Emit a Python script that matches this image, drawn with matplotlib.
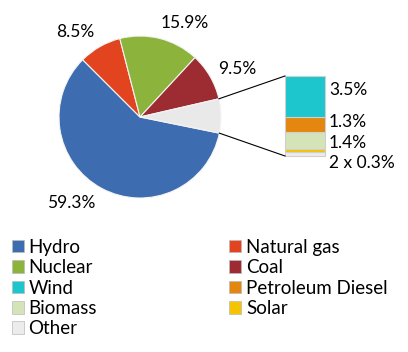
import numpy as np
import matplotlib.pyplot as plt
from matplotlib.patches import Patch

plt.rcParams['font.family'] = ['Lato', 'DejaVu Sans']

# pie: main sources + the "Other" group that is split out into the bar
pie_labels = ['Hydro', 'Natural gas', 'Nuclear', 'Coal', 'Other']
pie_values = [59.3, 8.5, 15.9, 9.5, 6.8]
pie_colors = ['#3d6cb0', '#e2441f', '#8cb43c', '#9c2c31', '#e9e9e9']
pie_text = ['59.3%', '8.5%', '15.9%', '9.5%', '']

# bar: breakdown of the small group, bottom to top
bar_labels = ['Other', 'Solar', 'Biomass', 'Petroleum Diesel', 'Wind']
bar_values = [0.3, 0.3, 1.4, 1.3, 3.5]
bar_colors = ['#ececec', '#f4c400', '#d5e3b8', '#e3870f', '#1cc6cc']
bar_text = ['2 x 0.3%', '', '1.4%', '1.3%', '3.5%']

legend_order = ['Hydro', 'Nuclear', 'Wind', 'Biomass', 'Other',
                'Natural gas', 'Coal', 'Petroleum Diesel', 'Solar']
color_of = dict(zip(pie_labels, pie_colors))
color_of.update(dict(zip(bar_labels, bar_colors)))

W, H = 408, 352
fig = plt.figure(figsize=(W / 100, H / 100), dpi=100)
ax = fig.add_axes([0, 0, 1, 1])

cx, cy, r = 140, H - 117, 81
start = 348.5
ax.pie(pie_values, colors=pie_colors, center=(cx, cy), radius=r,
       startangle=start, counterclock=False, frame=True,
       wedgeprops=dict(edgecolor='#f4f4f4', linewidth=0.8))
ax.set_xlim(0, W)
ax.set_ylim(0, H)
ax.axis('off')

fs = 12.5
label_pos = [(71, H - 203), (75, H - 32), (185, H - 23), (237, H - 69)]
for (x, y), t in zip(label_pos, pie_text[:4]):
    ax.text(x, y, t, ha='center', va='center', fontsize=fs)

# stacked bar for the "Other" group
bx, bw = 305, 40
scale = 80 / sum(bar_values)
bottom = H - 156
b = bottom
for v, c in zip(bar_values, bar_colors):
    ax.bar(bx, v * scale, bottom=b, width=bw, color=c, edgecolor='#cfcfcf', linewidth=0.8)
    b += v * scale

text_y = {'Wind': H - 90, 'Petroleum Diesel': H - 122, 'Biomass': H - 143, 'Other': H - 163}
for lab, t in zip(bar_labels, bar_text):
    if t:
        ax.text(bx + bw / 2 + 4, text_y[lab], t, ha='left', va='center', fontsize=fs)

# connector lines from the "Other" wedge to the bar
a1 = np.deg2rad(start + pie_values[-1] * 3.6)
a2 = np.deg2rad(start)
ax.plot([cx + r * np.cos(a1), bx - bw / 2], [cy + r * np.sin(a1), b], color='black', lw=0.8)
ax.plot([cx + r * np.cos(a2), bx - bw / 2], [cy + r * np.sin(a2), bottom], color='black', lw=0.8)

handles = [Patch(facecolor=color_of[n], edgecolor='#bbbbbb', linewidth=0.5) for n in legend_order]
ax.legend(handles, legend_order, ncol=2, loc='upper left', bbox_to_anchor=(0.01, 0.343),
          frameon=False, fontsize=13.5, handlelength=0.65, handleheight=0.65,
          handletextpad=0.25, labelspacing=0.18, columnspacing=7.05, borderaxespad=0)

fig.savefig('out.png', dpi=100)
